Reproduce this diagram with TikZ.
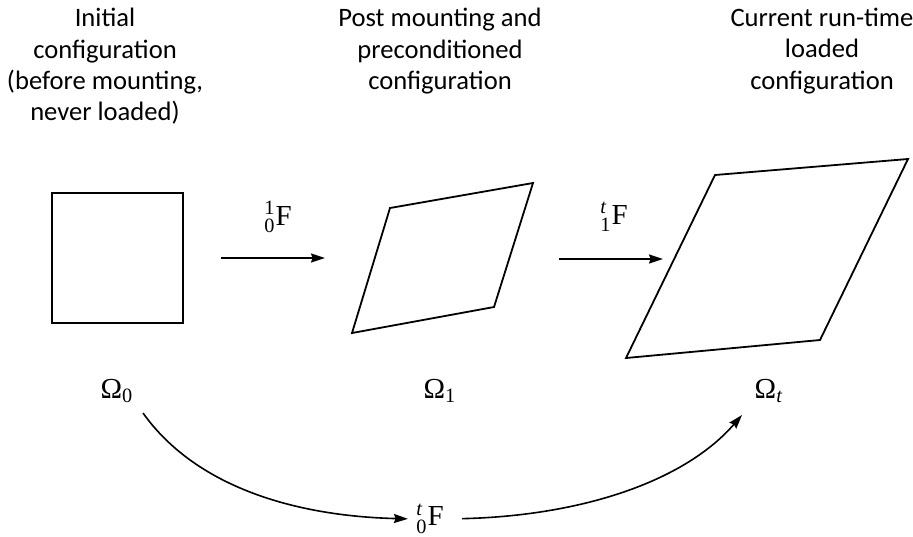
\documentclass[tikz,border=0pt]{standalone}
\usepackage{amsmath}
\usepackage{fontspec}
\setmainfont{Liberation Serif}
\newfontfamily\headfont{Carlito}
\usetikzlibrary{arrows.meta}
\tikzset{
  shapeline/.style ={draw=black,line width=0.9pt,line join=miter},
  flow/.style      ={-{Stealth[length=7pt,width=4.5pt,inset=0.8pt]},black,line width=0.8pt},
  head/.style      ={font=\headfont\fontsize{13.3}{15.6}\selectfont,align=center,
                     anchor=north,inner sep=0pt},
  sym/.style       ={font=\fontsize{14.5}{16}\selectfont,inner sep=1pt},
}
\newcommand{\defgrad}[3]{$^{\text{#1}}_{\text{#2}}$#3}

\begin{document}
\begin{tikzpicture}[x=0.5pt,y=-0.5pt]
\useasboundingbox (0,0) rectangle (913,536);

%% column headings
\node[head] (h0) at (105,8) {Initial\\configuration\\(before mounting,\\never loaded)};
\node[head] (h1) at (440,8) {Post mounting and\\preconditioned\\configuration};
\node[head] (h2) at (822,8) {Current run-time\\loaded\\configuration};

%% the three configurations
\draw[shapeline] (52,193) rectangle (183,323);
\draw[shapeline] (390,208) -- (533,183) -- (494,307) -- (352,333) -- cycle;
\draw[shapeline] (715,175) -- (908,159) -- (820,340) -- (626,358) -- cycle;

\node[sym] (om0) at (117,391) {Ω\textsubscript{0}};
\node[sym] (om1) at (440,391) {Ω\textsubscript{1}};
\node[sym] (omt) at (769,391) {Ω\textsubscript{\textit{t}}};

%% step maps
\coordinate (a0s) at (221,258);
\coordinate (a0e) at (325,258);
\coordinate (a1s) at (559,259);
\coordinate (a1e) at (663,259);
\node[sym] (f01) at (278,217) {\defgrad{1}{0}{F}};
\node[sym] (f1t) at (614,217) {\defgrad{\textit{t}}{1}{F}};
\draw[flow] (a0s) -- (a0e);
\draw[flow] (a1s) -- (a1e);

%% total map
\node[sym] (f0t) at (430,519) {\defgrad{\textit{t}}{0}{F}};
\coordinate (c0) at (143,413);
\coordinate (c1) at (742,415);
\draw[flow,shorten >=3pt] (c0) .. controls (195,486) and (293,516) .. (f0t.west);
\draw[flow,shorten <=8pt] (f0t.east) .. controls (578,516) and (683,483) .. (c1);
\end{tikzpicture}
\end{document}
